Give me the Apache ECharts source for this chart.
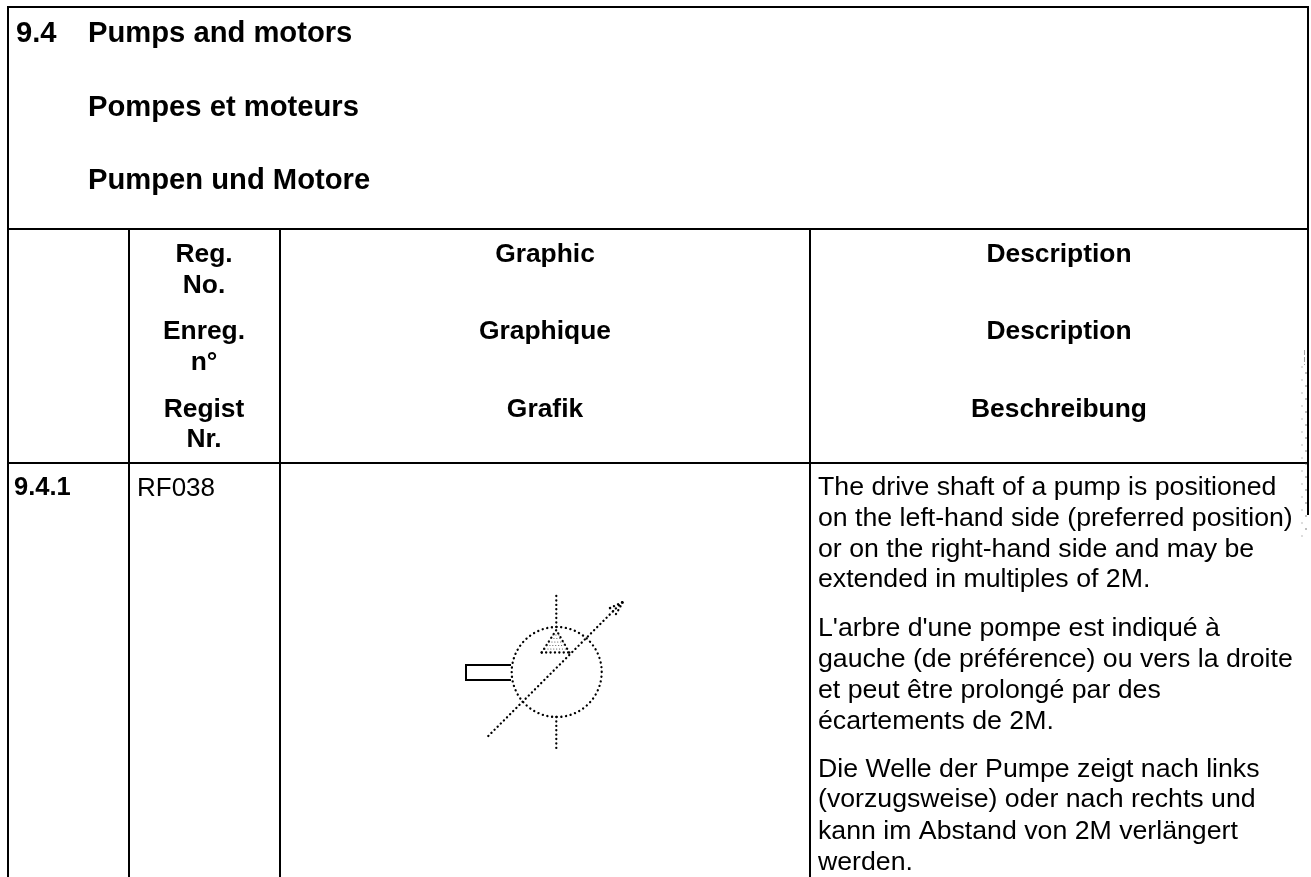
<!DOCTYPE html>
<html>
<head>
<meta charset="utf-8">
<style>html,body{margin:0;padding:0;background:#fff}#c{width:1311px;height:877px}</style>
<script src="https://cdn.jsdelivr.net/npm/echarts@6/dist/echarts.min.js"></script>
</head>
<body>
<div id="c"></div>
<script>
// Table rules as [x1, y1, x2, y2] on the page-sized axes
const tableRules = [
  [7, 7, 1309, 7],
  [8, 6, 8, 877],
  [1308, 6, 1308, 515],
  [7, 229, 1309, 229],
  [7, 463, 1309, 463],
  [129, 229, 129, 877],
  [280, 229, 280, 877],
  [810, 229, 810, 877]
];
// Heading block
const headingTexts = ['9.4', 'Pumps and motors', 'Pompes et moteurs', 'Pumpen und Motore'];
const headingX = [16, 88, 88, 88];
const headingY = [42, 42, 116, 189];
// Column headers
const headerTexts = ['Reg.', 'No.', 'Enreg.', 'n°', 'Regist', 'Nr.',
  'Graphic', 'Graphique', 'Grafik', 'Description', 'Description', 'Beschreibung'];
const headerX = [204, 204, 204, 204, 204, 204, 545, 545, 545, 1059, 1059, 1059];
const headerY = [262, 293, 339, 370, 417, 447, 262, 339, 417, 262, 339, 417];
// Row labels
const rowLabels = ['9.4.1', 'RF038'];
const rowLabelX = [14, 137];
const rowLabelY = [496, 496];
// Description paragraphs
const bodyLines = [
  'The drive shaft of a pump is positioned',
  'on the left-hand side (preferred position)',
  'or on the right-hand side and may be',
  'extended in multiples of 2M.',
  "L'arbre d'une pompe est indiqué à",
  'gauche (de préférence) ou vers la droite',
  'et peut être prolongé par des',
  'écartements de 2M.',
  'Die Welle der Pumpe zeigt nach links',
  '(vorzugsweise) oder nach rechts und',
  'kann im Abstand von 2M verlängert',
  'werden.'
];
const bodyY = [495.5, 526.5, 557, 587.5, 636.5, 667.5, 698, 729, 777.5, 807.5, 839, 870];
// Pump symbol
const circle = [556.7, 672, 45];
const dottedSegments = [
  [556.3, 596, 556.3, 627],
  [556.3, 717, 556.3, 748],
  [488.3, 736, 624.3, 600],
  [541.7, 652.5, 569.3, 652.5],
  [541.7, 652.5, 556.3, 630],
  [569.3, 652.5, 556.3, 630],
  [610, 608, 623, 602],
  [610, 608, 616, 614],
  [616, 614, 623, 602]
];
const triangleShade = [
  [553, 635, 560, 635],
  [551, 638.5, 562, 638.5],
  [549, 642, 564, 642],
  [547, 645.5, 566, 645.5],
  [545, 649, 568, 649]
];
const shaftOutline = [
  [511, 665, 465, 665],
  [466, 664, 466, 681],
  [465, 680, 511, 680]
];
// Faint scan marks at the right edge
const scanMarks = [
  [1304.5, 350, 1304.5, 365, 0.55],
  [1306, 372, 1306, 540, 0.75],
  [1302, 366, 1302, 540, 0.4]
];

const FONT = '"Liberation Sans", Arial, sans-serif';
const DESCENT = 0.212;

function lineSeries(data, width, color, dash, cap) {
  return {
    type: 'custom',
    coordinateSystem: 'cartesian2d',
    silent: true,
    data: data,
    encode: { x: [0, 2], y: [1, 3] },
    renderItem: function (p, api) {
      const a = api.coord([api.value(0), api.value(1)]);
      const b = api.coord([api.value(2), api.value(3)]);
      return {
        type: 'line',
        shape: { x1: a[0], y1: a[1], x2: b[0], y2: b[1] },
        style: { stroke: color, lineWidth: width, lineDash: dash || null, lineCap: cap || 'butt', fill: null }
      };
    }
  };
}

function scanSeries() {
  return {
    type: 'custom', silent: true, data: scanMarks, encode: { x: [0, 2], y: [1, 3] },
    renderItem: function (p, api) {
      const a = api.coord([api.value(0), api.value(1)]);
      const b = api.coord([api.value(2), api.value(3)]);
      const isShort = p.dataIndex === 0;
      return {
        type: 'line',
        shape: { x1: a[0], y1: a[1], x2: b[0], y2: b[1] },
        style: { stroke: '#555', opacity: api.value(4), lineWidth: 1, lineDash: isShort ? [5, 2] : [2, 11] }
      };
    }
  };
}

function textSeries(texts, xs, ys, size, weight, align) {
  const rows = texts.map(function (t, i) { return [xs[i], ys[i] + DESCENT * size, t]; });
  return {
    type: 'custom',
    silent: true,
    data: rows,
    encode: { x: 0, y: 1 },
    renderItem: function (p, api) {
      const pos = api.coord([api.value(0), api.value(1)]);
      return {
        type: 'text',
        x: pos[0],
        y: pos[1],
        style: {
          text: rows[p.dataIndex][2],
          fill: '#000',
          font: weight + ' ' + size + 'px ' + FONT,
          textAlign: align,
          verticalAlign: 'bottom'
        }
      };
    }
  };
}

const chart = echarts.init(document.getElementById('c'), null, { renderer: 'canvas' });
chart.setOption({
  animation: false,
  backgroundColor: '#fff',
  grid: { left: 0, right: 0, top: 0, bottom: 0 },
  xAxis: { type: 'value', min: 0, max: 1311, show: false },
  yAxis: { type: 'value', min: 0, max: 877, inverse: true, show: false },
  series: [
    lineSeries(tableRules, 2, '#000'),
    lineSeries(shaftOutline, 2, '#000'),
    lineSeries(dottedSegments, 2.3, '#000', [0.1, 4.3], 'round'),
    lineSeries(triangleShade, 1.1, '#555', [0.1, 2.8], 'round'),
    {
      type: 'custom', silent: true, data: [circle], encode: { x: 0, y: 1 },
      renderItem: function (p, api) {
        const c = api.coord([api.value(0), api.value(1)]);
        const r = api.size([api.value(2), 0])[0];
        return {
          type: 'circle',
          shape: { cx: c[0], cy: c[1], r: r },
          style: { fill: null, stroke: '#000', lineWidth: 2.3, lineDash: [0.1, 4.6], lineCap: 'round' }
        };
      }
    },
    scanSeries(),
    textSeries(headingTexts, headingX, headingY, 29.2, 'bold', 'left'),
    textSeries(headerTexts, headerX, headerY, 26.4, 'bold', 'center'),
    textSeries(rowLabels.slice(0, 1), rowLabelX.slice(0, 1), rowLabelY.slice(0, 1), 25.5, 'bold', 'left'),
    textSeries(rowLabels.slice(1), rowLabelX.slice(1), rowLabelY.slice(1), 26, 'normal', 'left'),
    textSeries(bodyLines, bodyLines.map(function () { return 818; }), bodyY, 26.7, 'normal', 'left')
  ]
});
</script>
</body>
</html>
